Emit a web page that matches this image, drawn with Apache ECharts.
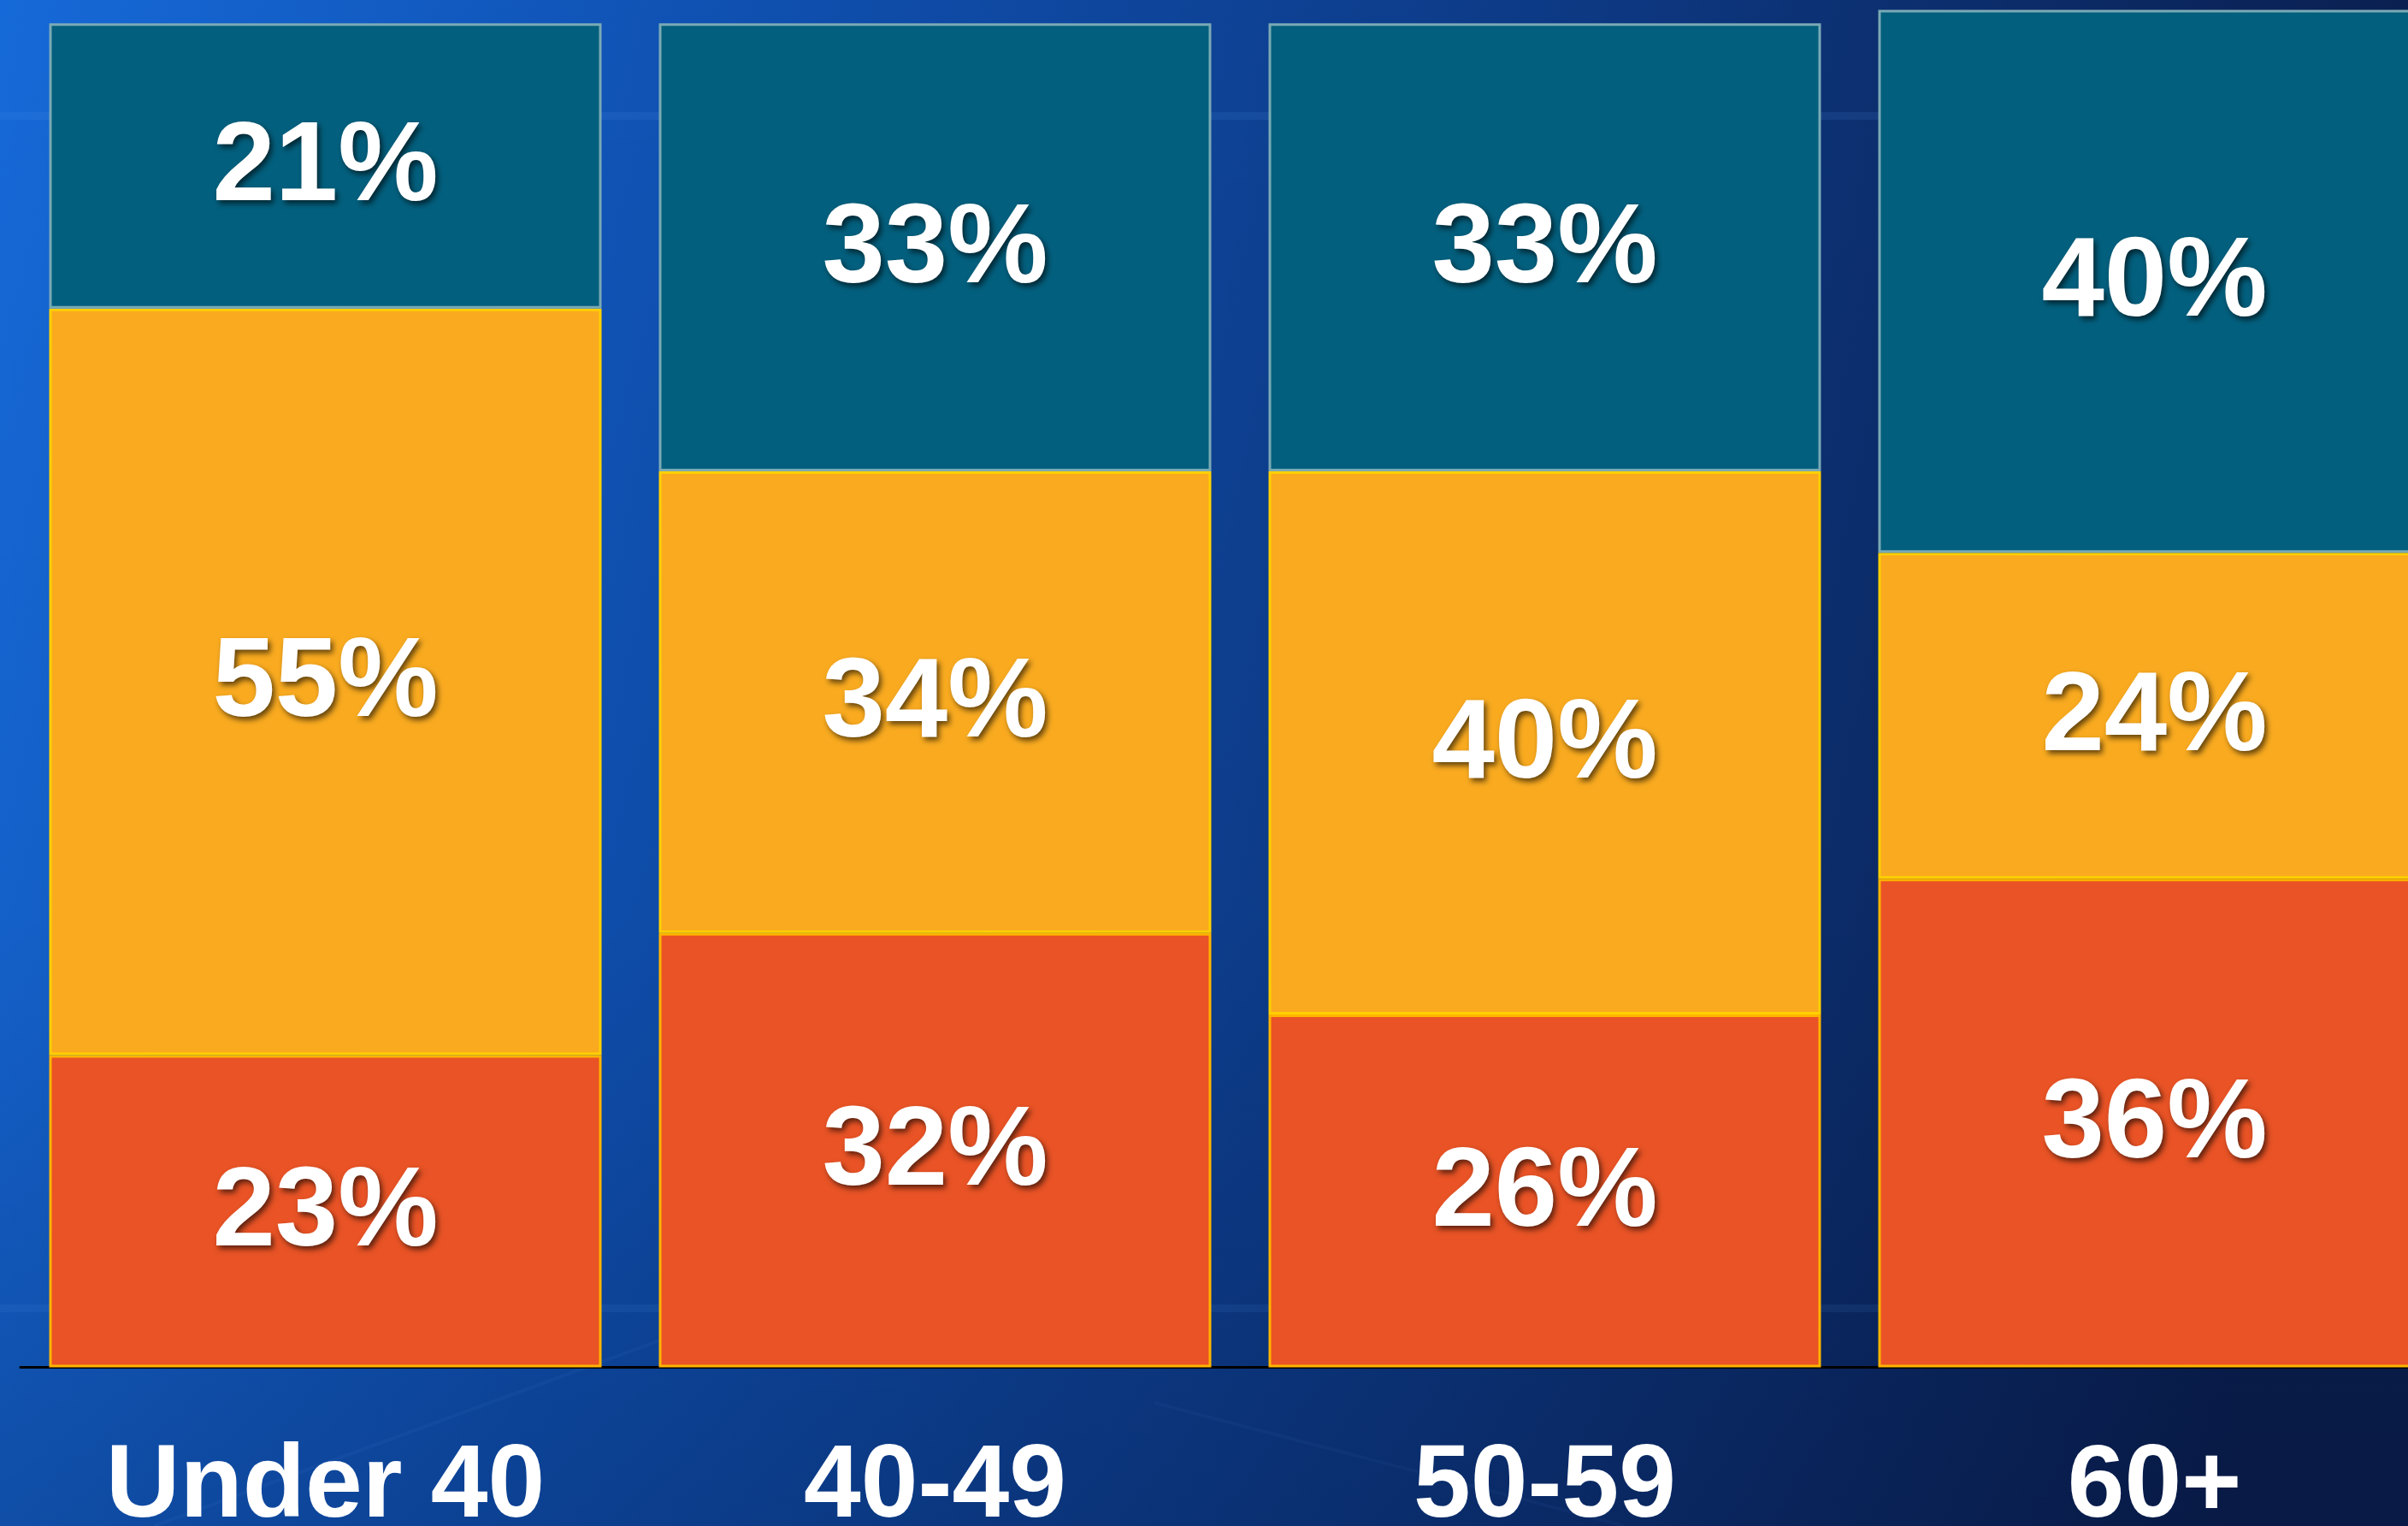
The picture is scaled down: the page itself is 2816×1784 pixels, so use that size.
<!DOCTYPE html>
<html>
<head>
<meta charset="utf-8">
<title>Age group shares</title>
<script src="https://cdn.jsdelivr.net/npm/echarts@6/dist/echarts.min.js"></script>
<style>
  html, body { margin: 0; padding: 0; background: #0d3a86; }
  #chart { width: 2816px; height: 1784px; }
</style>
</head>
<body>
<div id="chart"></div>
<script>
// Age groups along the x axis
const categories = ['Under 40', '40-49', '50-59', '60+'];
// Shares per age group, stacked bottom to top (percent)
const bottomShare = [23, 32, 26, 36];
const middleShare = [55, 34, 40, 24];
const topShare = [21, 33, 33, 40];

const chart = echarts.init(document.getElementById('chart'), null, { renderer: 'canvas' });

const valueLabel = {
  show: true,
  position: 'inside',
  formatter: '{c}%',
  color: '#ffffff',
  fontFamily: '"Liberation Sans", Arial, Helvetica, sans-serif',
  fontWeight: 'bold',
  fontSize: 132,
  offset: [0, 4],
  textShadowColor: 'rgba(0, 0, 0, 0.6)',
  textShadowBlur: 6,
  textShadowOffsetX: 3,
  textShadowOffsetY: 4
};

function segment(name, values, fill, border) {
  return {
    name: name,
    type: 'bar',
    stack: 'share',
    data: values,
    barWidth: 646,
    itemStyle: { color: fill, borderColor: border, borderWidth: 3 },
    label: valueLabel,
    emphasis: { disabled: true },
    silent: true
  };
}

chart.setOption({
  animation: false,
  backgroundColor: new echarts.graphic.LinearGradient(0, 0, 1, 0.25, [
    { offset: 0, color: '#1669d8' },
    { offset: 0.3, color: '#0f50b0' },
    { offset: 0.62, color: '#0d3a86' },
    { offset: 1, color: '#0a1e4d' }
  ]),
  graphic: [
    {
      type: 'rect', z: -10, silent: true,
      shape: { x: 0, y: 0, width: 2816, height: 1784 },
      style: {
        fill: new echarts.graphic.LinearGradient(0, 0, 0, 1, [
          { offset: 0, color: 'rgba(0, 10, 40, 0)' },
          { offset: 0.6, color: 'rgba(0, 10, 40, 0.04)' },
          { offset: 1, color: 'rgba(0, 10, 40, 0.22)' }
        ])
      }
    },
    {
      type: 'rect', z: -9, silent: true,
      shape: { x: 0, y: 131, width: 2816, height: 9 },
      style: { fill: 'rgba(90, 160, 235, 0.12)' }
    },
    {
      type: 'rect', z: -9, silent: true,
      shape: { x: 0, y: 1525, width: 2816, height: 9 },
      style: { fill: 'rgba(90, 160, 235, 0.10)' }
    },
    {
      type: 'line', z: -9, silent: true,
      shape: { x1: 180, y1: 1784, x2: 900, y2: 1520 },
      style: { stroke: 'rgba(120, 180, 255, 0.05)', lineWidth: 4 }
    },
    {
      type: 'line', z: -9, silent: true,
      shape: { x1: 1350, y1: 1640, x2: 1900, y2: 1784 },
      style: { stroke: 'rgba(120, 180, 255, 0.04)', lineWidth: 4 }
    }
  ],
  grid: {
    left: 24, top: 11.5, width: 2852, bottom: 185.5,
    containLabel: false,
    outerBoundsMode: 'none'
  },
  xAxis: {
    type: 'category',
    data: categories,
    axisLine: { show: true, lineStyle: { color: '#000000', width: 3 } },
    axisTick: { show: false },
    splitLine: { show: false },
    axisLabel: {
      color: '#ffffff',
      fontFamily: '"Liberation Sans", Arial, Helvetica, sans-serif',
      fontWeight: 'bold',
      fontSize: 120,
      margin: 81,
      interval: 0
    }
  },
  yAxis: {
    type: 'value',
    min: 0,
    max: 100,
    show: false,
    splitLine: { show: false }
  },
  series: [
    segment('bottom', bottomShare, '#e95325', '#ffb400'),
    segment('middle', middleShare, '#f9aa1f', '#ffd000'),
    segment('top', topShare, '#025f7d', '#7aaab5')
  ]
});
</script>
</body>
</html>
